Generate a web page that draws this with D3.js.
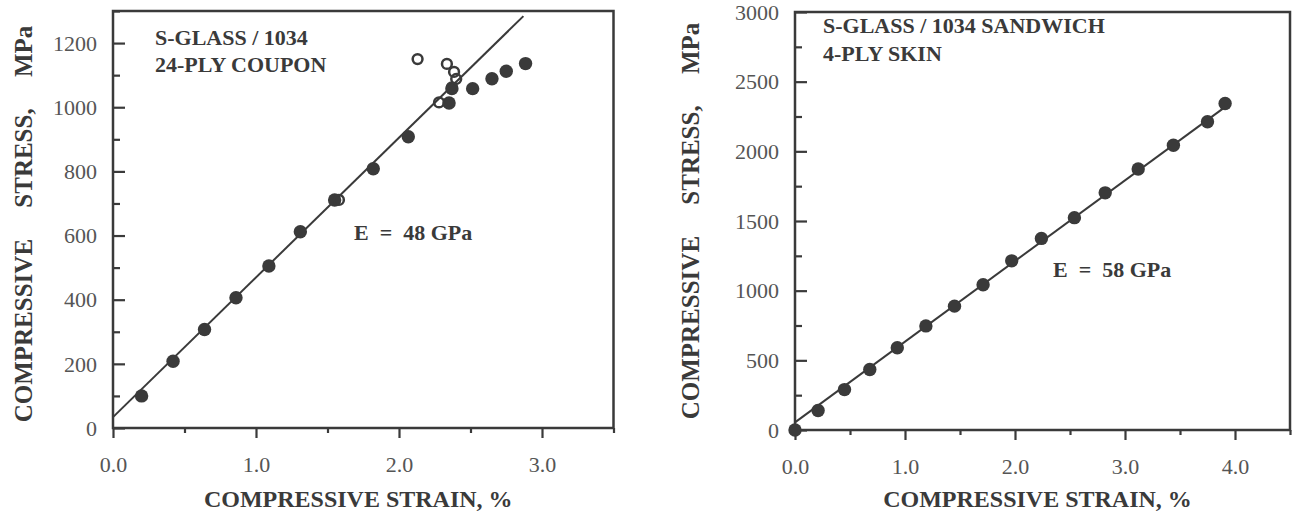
<!DOCTYPE html>
<html>
<head>
<meta charset="utf-8">
<script src="https://cdn.jsdelivr.net/npm/d3@7"></script>
<style>
  body { margin: 0; background: #fff; }
  svg { display: block; }
  text { font-family: "Liberation Serif", "Times New Roman", serif; }
</style>
</head>
<body>
<div id="chart"></div>
<script>
// values (strain in %, stress in MPa)

// left: 24-ply coupon
var couponFilled = [
    [0.20, 100], [0.42, 208], [0.64, 307], [0.86, 406], [1.09, 505],
    [1.31, 612], [1.55, 711], [1.82, 808], [2.065, 908], [2.35, 1013],
    [2.37, 1058], [2.515, 1058], [2.65, 1089], [2.75, 1112], [2.885, 1136]
];
var couponOpen = [
    [1.58, 711], [2.13, 1150], [2.28, 1015], [2.335, 1135],
    [2.385, 1110], [2.40, 1088], [2.37, 1062]
];
var couponFit = [[0, 34], [2.87, 1284]];
var couponXTicks = [0, 1, 2, 3];
var couponXMinor = [0.5, 1.5, 2.5, 3.5];
var couponYTicks = [0, 200, 400, 600, 800, 1000, 1200];
var couponYMinor = [100, 300, 500, 700, 900, 1100, 1300];

// right: sandwich with 4-ply skin
var sandwichPoints = [
    [0.00, 0], [0.21, 140], [0.45, 290], [0.68, 434], [0.93, 590],
    [1.19, 747], [1.45, 889], [1.71, 1043], [1.97, 1214], [2.24, 1375],
    [2.54, 1524], [2.82, 1702], [3.12, 1873], [3.44, 2044], [3.75, 2212],
    [3.91, 2343]
];
var sandwichFit = [[0, 55], [3.93, 2330]];
var sandwichXTicks = [0, 1, 2, 3, 4];
var sandwichXMinor = [0.5, 1.5, 2.5, 3.5, 4.5];
var sandwichYTicks = [0, 500, 1000, 1500, 2000, 2500, 3000];
var sandwichYMinor = [250, 750, 1250, 1750, 2250, 2750];

var ink = "#3a3a3a",
    tickInk = "#555",
    serif = "'Liberation Serif', 'Times New Roman', serif";

var svg = d3.select("#chart").append("svg")
    .attr("width", 1294)
    .attr("height", 517);

// one stress-strain panel
function panel(g, cfg) {
    var x = d3.scaleLinear().domain([0, cfg.xMax]).range([cfg.left, cfg.right]);
    var y = d3.scaleLinear().domain([0, cfg.yMax]).range([cfg.bottom, cfg.top]);

    // x ticks point outward, y ticks point into the plot
    var xAxis = g.append("g")
        .attr("transform", "translate(0," + cfg.bottom + ")")
        .call(d3.axisBottom(x).tickValues(cfg.xTicks).tickSize(10).tickPadding(18)
            .tickFormat(d3.format(".1f")));
    var xMinor = g.append("g")
        .attr("transform", "translate(0," + cfg.bottom + ")")
        .call(d3.axisBottom(x).tickValues(cfg.xMinor).tickSize(5).tickFormat(""));
    var yAxis = g.append("g")
        .attr("transform", "translate(" + cfg.left + ",0)")
        .call(d3.axisLeft(y).tickValues(cfg.yTicks).tickSize(-12).tickPadding(16)
            .tickFormat(d3.format("d")));
    var yMinor = g.append("g")
        .attr("transform", "translate(" + cfg.left + ",0)")
        .call(d3.axisLeft(y).tickValues(cfg.yMinor).tickSize(-7).tickFormat(""));

    [xAxis, xMinor, yAxis, yMinor].forEach(function(a) {
        a.attr("font-family", serif).attr("font-size", 22);
        a.select(".domain").remove();
        a.selectAll("line").attr("stroke", ink).attr("stroke-width", 2.2);
        a.selectAll("text")
            .style("font-family", serif)
            .attr("font-size", 22)
            .attr("fill", tickInk);
    });
    yAxis.selectAll("text").attr("dy", "0.33em");

    // frame
    g.append("rect")
        .attr("x", x(0))
        .attr("y", y(cfg.yMax))
        .attr("width", x(cfg.xMax) - x(0))
        .attr("height", y(0) - y(cfg.yMax))
        .attr("fill", "none")
        .attr("stroke", ink)
        .attr("stroke-width", 2.5);

    // fitted modulus line
    g.append("path")
        .datum(cfg.fit)
        .attr("d", d3.line().x(d => x(d[0])).y(d => y(d[1])))
        .attr("fill", "none")
        .attr("stroke", ink)
        .attr("stroke-width", 2);

    g.append("g").selectAll("circle")
        .data(cfg.filled)
        .enter()
        .append("circle")
        .attr("cx", d => x(d[0]))
        .attr("cy", d => y(d[1]))
        .attr("r", 6.7)
        .attr("fill", ink);

    g.append("g").selectAll("circle")
        .data(cfg.open || [])
        .enter()
        .append("circle")
        .attr("cx", d => x(d[0]))
        .attr("cy", d => y(d[1]))
        .attr("r", 4.9)
        .attr("fill", "none")
        .attr("stroke", ink)
        .attr("stroke-width", 2.5);

    // annotations
    cfg.notes.forEach(function(n) {
        g.append("text")
            .attr("x", n[1])
            .attr("y", n[2])
            .attr("font-size", 22)
            .attr("font-weight", "bold")
            .attr("fill", ink)
            .attr("xml:space", "preserve")
            .text(n[0]);
    });

    // axis titles
    g.append("text")
        .attr("x", (cfg.left + cfg.right) / 2 + cfg.xTitleShift)
        .attr("y", 507)
        .attr("text-anchor", "middle")
        .attr("font-size", 24)
        .attr("font-weight", "bold")
        .attr("fill", ink)
        .text("COMPRESSIVE STRAIN, %");

    g.append("text")
        .attr("transform", "translate(" + cfg.yTitleX + "," + cfg.yTitleY + ") rotate(-90)")
        .attr("text-anchor", "middle")
        .attr("font-size", 25)
        .attr("font-weight", "bold")
        .attr("fill", ink)
        .attr("xml:space", "preserve")
        .text("COMPRESSIVE     STRESS,     MPa");
}

panel(svg.append("g"), {
    left: 113, right: 613.5, top: 11, bottom: 428,
    xMax: 3.5, yMax: 1300,
    xTicks: couponXTicks, xMinor: couponXMinor,
    yTicks: couponYTicks, yMinor: couponYMinor,
    fit: couponFit, filled: couponFilled, open: couponOpen,
    notes: [["S-GLASS / 1034", 155, 45], ["24-PLY COUPON", 155, 72], ["E  =  48 GPa", 354, 240]],
    xTitleShift: -5,
    yTitleX: 32, yTitleY: 224
});

panel(svg.append("g"), {
    left: 795, right: 1290, top: 12, bottom: 430,
    xMax: 4.5, yMax: 3000,
    xTicks: sandwichXTicks, xMinor: sandwichXMinor,
    yTicks: sandwichYTicks, yMinor: sandwichYMinor,
    fit: sandwichFit, filled: sandwichPoints,
    notes: [["S-GLASS / 1034 SANDWICH", 823, 33], ["4-PLY SKIN", 823, 61], ["E  =  58 GPa", 1053, 277]],
    xTitleShift: -5,
    yTitleX: 699, yTitleY: 221
});
</script>
</body>
</html>
